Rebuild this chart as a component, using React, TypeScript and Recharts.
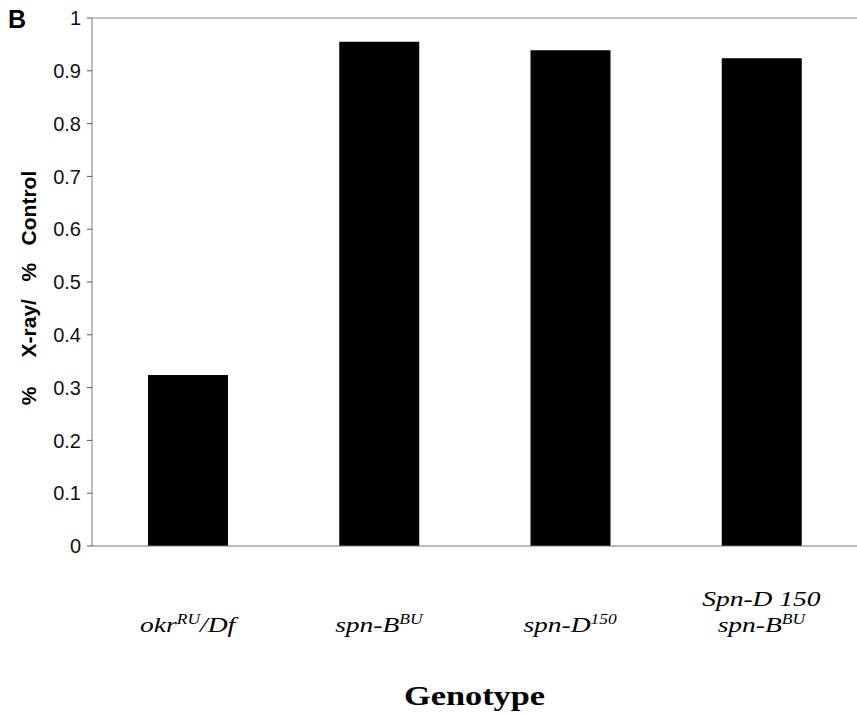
import { Bar, BarChart, Label, ReferenceLine, XAxis, YAxis } from "recharts";

// genotype categories, in plot order
const genotypes = ["okrRU/Df", "spn-BBU", "spn-D150", "Spn-D 150 spn-BBU"];
// tick label markup: "^" toggles superscript, "\n" breaks a line
const tickLabels = ["okr^RU^/Df", "spn-B^BU", "spn-D^150", "Spn-D 150\nspn-B^BU"];
// % X-ray / % Control
const ratios = [0.324, 0.955, 0.939, 0.924];
const yTicks = [0, 0.1, 0.2, 0.3, 0.4, 0.5, 0.6, 0.7, 0.8, 0.9, 1];

const data = genotypes.map((g, i) => ({ genotype: g, label: tickLabels[i], ratio: ratios[i] }));

const serif = "'Liberation Serif', 'Times New Roman', serif";
const sans = "'Liberation Sans', Arial, sans-serif";

function GenotypeTick(props: any) {
  const { x, y, index } = props;
  const lines = tickLabels[index].split("\n");
  const base = y + 78;
  return (
    <g transform={`translate(${x},${base}) scale(1.25,1)`}>
      {lines.map((line, li) => {
        const parts = line.split("^");
        return (
          <text
            key={li}
            x={0}
            y={(li - (lines.length - 1)) * 26}
            textAnchor="middle"
            fontFamily={serif}
            fontStyle="italic"
            fontSize={22}
            fill="#000"
            style={{ whiteSpace: "pre" }}
          >
            {parts.map((p, pi) => {
              const sup = pi % 2 === 1;
              const after = pi > 0 && !sup;
              return (
                <tspan
                  key={pi}
                  fontSize={sup ? 14 : 22}
                  dy={sup ? -8 : after ? 8 : 0}
                >
                  {p}
                </tspan>
              );
            })}
          </text>
        );
      })}
    </g>
  );
}

function GenotypeTitle(props: any) {
  const vb = props.viewBox;
  const cx = vb.x + vb.width / 2;
  return (
    <text
      transform={`translate(${cx},${vb.y + 159}) scale(1.27,1)`}
      textAnchor="middle"
      fontFamily={serif}
      fontWeight="bold"
      fontSize={27}
      fill="#000"
    >
      Genotype
    </text>
  );
}

function RatioTitle(props: any) {
  const vb = props.viewBox;
  const cy = vb.y + vb.height / 2 + 6;
  const cx = 36;
  return (
    <text
      x={cx}
      y={cy}
      transform={`rotate(-90, ${cx}, ${cy})`}
      textAnchor="middle"
      fontFamily={sans}
      fontWeight="bold"
      fontSize={21}
      fill="#000"
      style={{ whiteSpace: "pre" }}
    >
      {"%     X-ray/   %   Control"}
    </text>
  );
}

export default function App() {
  return (
    <div style={{ position: "absolute", left: 0, top: 0, width: 857, height: 715, background: "#fff" }}>
      <div
        style={{
          position: "absolute",
          left: 8,
          top: 5,
          fontFamily: sans,
          fontWeight: "bold",
          fontSize: 25,
          color: "#000",
        }}
      >
        B
      </div>
      <BarChart
        width={857}
        height={715}
        data={data}
        margin={{ top: 18, right: 0, bottom: 0, left: 0 }}
      >
        <XAxis
          dataKey="genotype"
          height={169}
          axisLine={{ stroke: "#777" }}
          tickLine={false}
          tick={<GenotypeTick />}
          interval={0}
        >
          <Label content={<GenotypeTitle />} />
        </XAxis>
        <YAxis
          width={92}
          domain={[0, 1]}
          ticks={yTicks}
          interval={0}
          axisLine={{ stroke: "#777" }}
          tickLine={{ stroke: "#555" }}
          tickSize={5}
          tickMargin={6}
          tickFormatter={(v: number) => String(v)}
          tick={{ fontFamily: sans, fontSize: 20, fill: "#111" }}
        >
          <Label content={<RatioTitle />} />
        </YAxis>
        <ReferenceLine y={1} stroke="#888" />
        <Bar dataKey="ratio" fill="#000" barSize={80} isAnimationActive={false} />
      </BarChart>
    </div>
  );
}
